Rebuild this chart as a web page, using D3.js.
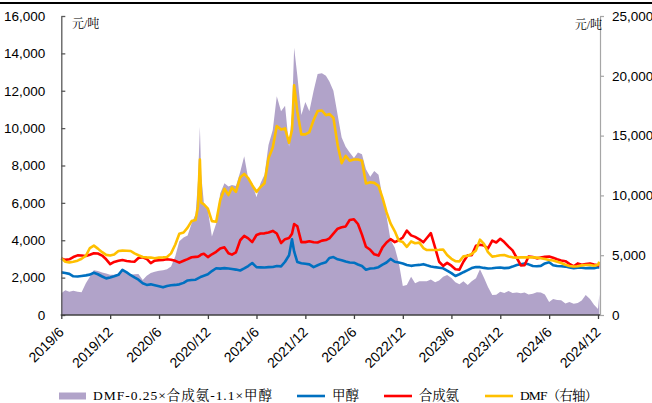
<!DOCTYPE html>
<html>
<head>
<meta charset="utf-8">
<script src="https://cdn.jsdelivr.net/npm/d3@7"></script>
<style>
  body { margin: 0; background: #fff; }
  svg { display: block; font-family: "Times New Roman", "Liberation Serif", "Noto Serif CJK SC", "Noto Sans CJK SC", serif; }
</style>
</head>
<body>
<svg id="chart" width="652" height="403"></svg>
<script>
// Observation dates (semi-monthly, with a few extra points around sharp moves)
const dates = [
  "2019-06-01","2019-06-16","2019-07-01","2019-07-16","2019-08-01","2019-08-16","2019-09-01","2019-09-16","2019-10-01","2019-10-16","2019-11-01","2019-11-16","2019-12-01","2019-12-16",
  "2020-01-01","2020-01-16","2020-02-01","2020-02-16","2020-03-01","2020-03-16","2020-04-01","2020-04-16","2020-05-01","2020-05-16","2020-06-01","2020-06-16","2020-07-01","2020-07-16","2020-08-01","2020-08-16","2020-09-01","2020-09-16","2020-10-01","2020-10-16","2020-10-25","2020-11-01","2020-11-06","2020-11-16","2020-12-01","2020-12-16",
  "2021-01-01","2021-01-16","2021-02-01","2021-02-16","2021-03-01","2021-03-16","2021-04-01","2021-04-16","2021-05-01","2021-05-16","2021-06-01","2021-06-16","2021-07-01","2021-07-16","2021-08-01","2021-08-16","2021-09-01","2021-09-16","2021-10-01","2021-10-12","2021-10-20","2021-11-01","2021-11-16","2021-12-01","2021-12-16",
  "2022-01-01","2022-01-16","2022-02-01","2022-02-16","2022-03-01","2022-03-16","2022-04-01","2022-04-16","2022-05-01","2022-05-16","2022-06-01","2022-06-16","2022-07-01","2022-07-16","2022-08-01","2022-08-16","2022-09-01","2022-09-16","2022-10-01","2022-10-16","2022-11-01","2022-11-16","2022-12-01","2022-12-16",
  "2023-01-01","2023-01-16","2023-02-01","2023-02-16","2023-03-01","2023-03-16","2023-04-01","2023-04-16","2023-05-01","2023-05-16","2023-06-01","2023-06-16","2023-07-01","2023-07-16","2023-08-01","2023-08-16","2023-09-01","2023-09-16","2023-10-01","2023-10-16","2023-11-01","2023-11-16","2023-12-01","2023-12-16",
  "2024-01-01","2024-01-16","2024-02-01","2024-02-16","2024-03-01","2024-03-16","2024-04-01","2024-04-16","2024-05-01","2024-05-16","2024-06-01","2024-06-16","2024-07-01","2024-07-16","2024-08-01","2024-08-16","2024-09-01","2024-09-16","2024-10-01","2024-10-16","2024-11-01","2024-11-16","2024-12-01","2024-12-06"
];

// DMF-0.25×合成氨-1.1×甲醇 spread (left axis, 元/吨)
const spread = [
  1160,1330,1250,1300,1250,1220,1700,2050,2400,2350,2280,2220,2150,2160,
  2200,2360,2250,2160,2180,2200,1870,2100,2250,2320,2370,2400,2450,2600,3150,3950,4150,4250,4900,5400,7200,10080,7500,6000,5600,4200,
  4900,6500,7050,6870,6950,6900,7650,8500,7300,7050,6300,7050,7500,9100,9900,11700,10900,11200,9000,10800,14300,12800,10700,11400,10900,
  12000,12900,12930,12800,12500,12000,10700,9500,9000,8700,8400,8700,8600,7800,7400,7700,7500,6300,5300,4010,3600,2800,1550,1600,
  2050,1700,1800,1800,1800,1900,1750,1850,2050,2140,1980,1750,1640,1800,1600,1800,1960,2450,2000,1500,1070,1080,1250,1180,
  1280,1180,1200,1160,1200,1100,1140,1220,1200,1100,700,850,800,790,620,700,600,640,780,1070,850,550,320,1100
];

// 甲醇 (left axis)
const methanol = [
  2280,2250,2200,2070,2060,2090,2120,2160,2260,2180,2060,1960,2010,2070,
  2150,2420,2280,2130,2010,1890,1700,1610,1640,1590,1540,1480,1550,1590,1610,1640,1720,1850,1870,1890,1960,2010,2050,2100,2180,2350,
  2500,2480,2510,2490,2460,2430,2380,2490,2620,2780,2560,2550,2540,2560,2570,2620,2600,2850,3200,4050,3400,2830,2770,2740,2710,
  2560,2660,2760,2820,3050,3100,2980,2930,2860,2810,2800,2700,2620,2420,2490,2500,2560,2700,2810,3000,2850,2810,2760,2680,
  2630,2660,2680,2720,2660,2600,2560,2530,2500,2370,2240,2090,2180,2290,2400,2510,2570,2560,2520,2490,2500,2530,2540,2510,
  2520,2590,2680,2720,2760,2710,2620,2610,2630,2760,2820,2660,2620,2610,2590,2540,2500,2530,2530,2500,2520,2500,2550,2550
];

// 合成氨 (left axis)
const ammonia = [
  3030,2950,2980,3100,3190,3180,3160,3220,3300,3290,3180,2980,2720,2840,
  2900,2940,2890,2860,2850,3050,3090,3000,2780,2910,2930,2950,2980,2960,2900,2800,2900,2990,3090,3110,3120,3180,3240,3280,3100,3250,
  3380,3560,3620,3300,3230,3350,4000,4230,4100,3900,4280,4360,4370,4420,4500,4360,3850,4060,4120,4350,4870,4750,3900,3900,3950,
  3890,3880,3980,4010,4100,4350,4620,4690,4740,5080,5120,4870,4300,3650,3490,3250,3180,3620,3880,4060,3900,4000,4150,4520,
  4260,4180,4050,3890,4120,4380,3600,2850,2630,2790,2640,2450,2430,2850,3200,3200,3700,3760,3720,3560,3980,3880,4080,3900,
  3660,3460,3050,2650,2660,3130,3100,3030,3080,3120,3130,3060,2980,2920,2880,2740,2600,2760,2690,2730,2760,2700,2660,2640
];

// DMF (right axis)
const dmf = [
  4740,4450,4400,4450,4540,4700,4950,5600,5800,5550,5250,5030,4980,5050,
  5350,5380,5370,5350,5150,5000,4850,4820,4800,4740,4800,4820,4850,5150,5900,6800,6900,7300,7850,7950,9100,13000,9400,9250,8900,7850,
  7800,9600,10550,10030,10650,10300,11500,11800,11450,10850,10300,10700,11010,13100,14000,15800,15500,15600,14400,15500,19200,17000,15100,15100,15300,
  16300,17050,17100,16700,16800,16500,14200,12700,13300,12900,13000,13000,12900,11000,11100,11050,10800,9800,8600,7660,7000,6200,6100,5700,
  6150,6000,6050,5600,5430,5430,5430,5450,5480,5020,4700,4500,4480,4900,4950,5100,5400,6300,5950,5250,4880,4930,5000,5020,
  4900,4820,4800,4820,4820,4820,4820,4800,4750,4680,4600,4550,4450,4350,4200,4100,4050,4080,4150,4180,4180,4120,4200,4450
];

const xTickLabels = ["2019/6","2019/12","2020/6","2020/12","2021/6","2021/12","2022/6","2022/12","2023/6","2023/12","2024/6","2024/12"];
const leftTicks = [0,2000,4000,6000,8000,10000,12000,14000,16000];
const rightTicks = [0,5000,10000,15000,20000,25000];

const legendItems = [
  { label: "DMF-0.25×合成氨-1.1×甲醇", kind: "area", color: "#b1a3c9" },
  { label: "甲醇", kind: "line", color: "#0070c0" },
  { label: "合成氨", kind: "line", color: "#ff0000" },
  { label: "DMF（右轴）", kind: "line", color: "#ffc000" }
];

// ---- layout ----
const plotLeft = 61.3, plotRight = 600, plotTop = 16, plotBottom = 315;
const parseDay = d3.timeParse("%Y-%m-%d");
const parseMonth = d3.timeParse("%Y/%m");
const t = dates.map(parseDay);
const tickDates = xTickLabels.map(parseMonth);

const x = d3.scaleTime()
  .domain([tickDates[0], tickDates[tickDates.length - 1]])
  .range([plotLeft, 598]);
const yL = d3.scaleLinear().domain([0, 16000]).range([plotBottom, plotTop]);
const yR = d3.scaleLinear().domain([0, 25000]).range([plotBottom, plotTop]);

const svg = d3.select("#chart");
const fontSize = 13.5;

// top rule
svg.append("rect").attr("x", 0).attr("y", 2).attr("width", 652).attr("height", 2).attr("fill", "#000");

// spread area
const area = d3.area()
  .x((d, i) => x(t[i]))
  .y0(yL(0))
  .y1(d => yL(d));
svg.append("path").datum(spread).attr("d", area).attr("fill", "#b1a3c9");

// lines
const lineLeft = d3.line().x((d, i) => x(t[i])).y(d => yL(d));
const lineRight = d3.line().x((d, i) => x(t[i])).y(d => yR(d));
const lineStyle = (p, color) => p.attr("fill", "none").attr("stroke", color)
  .attr("stroke-width", 2.6).attr("stroke-linejoin", "round").attr("stroke-linecap", "butt");

svg.append("path").datum(methanol).attr("d", lineLeft).call(lineStyle, "#0070c0");
svg.append("path").datum(ammonia).attr("d", lineLeft).call(lineStyle, "#ff0000");
svg.append("path").datum(dmf).attr("d", lineRight).call(lineStyle, "#ffc000");

// left axis (ticks point inward)
const gL = svg.append("g")
  .attr("transform", `translate(${plotLeft},0)`)
  .call(d3.axisLeft(yL).tickValues(leftTicks).tickFormat(d3.format(",")).tickSize(-4).tickSizeOuter(0).tickPadding(16));
gL.select(".domain").attr("stroke", "#595959").attr("stroke-width", 1.3);
gL.selectAll(".tick line").attr("stroke", "#595959").attr("stroke-width", 1.3);
gL.selectAll(".tick text").attr("font-size", fontSize).attr("fill", "#000").attr("font-family", null);

// right axis
const gR = svg.append("g")
  .attr("transform", `translate(${plotRight},0)`)
  .call(d3.axisRight(yR).tickValues(rightTicks).tickFormat(d3.format(",")).tickSize(4).tickSizeOuter(0).tickPadding(8));
gR.select(".domain").attr("stroke", "#a6a6a6").attr("stroke-width", 1.2);
gR.selectAll(".tick line").attr("stroke", "#a6a6a6").attr("stroke-width", 1.2);
gR.selectAll(".tick text").attr("font-size", fontSize).attr("fill", "#000").attr("font-family", null);

// bottom axis with rotated labels
const gX = svg.append("g")
  .attr("transform", `translate(0,${plotBottom})`)
  .call(d3.axisBottom(x).tickValues(tickDates).tickFormat((d, i) => xTickLabels[i]).tickSize(4).tickSizeOuter(0));
gX.select(".domain").remove();
gX.append("line").attr("x1", plotLeft - 0.6).attr("x2", plotRight).attr("y1", 0).attr("y2", 0)
  .attr("stroke", "#404040").attr("stroke-width", 1.6);
gX.selectAll(".tick line").attr("stroke", "#404040").attr("stroke-width", 1.3);
gX.selectAll(".tick text")
  .attr("font-size", 14).attr("fill", "#000").attr("font-family", null)
  .attr("text-anchor", "end")
  .attr("y", 0).attr("dy", 0)
  .attr("transform", "translate(3,18) rotate(-45)");

// unit labels
svg.append("text").attr("x", 72).attr("y", 28).attr("font-size", 12).attr("fill", "#000").text("元/吨");
svg.append("text").attr("x", 602).attr("y", 29).attr("text-anchor", "end").attr("font-size", 12).attr("fill", "#000").text("元/吨");

// legend
const legendX = [59, 297, 384, 485];
const legendTextWidth = [179, null, 40, 78];
const lg = svg.append("g");
legendItems.forEach((item, i) => {
  const x0 = legendX[i];
  if (item.kind === "area") {
    lg.append("rect").attr("x", x0).attr("y", 392.5).attr("width", 27).attr("height", 7).attr("fill", item.color);
  } else {
    lg.append("line").attr("x1", x0).attr("x2", x0 + 28).attr("y1", 396).attr("y2", 396)
      .attr("stroke", item.color).attr("stroke-width", 2.6);
  }
  const txt = lg.append("text").attr("x", x0 + (item.kind === "area" ? 34 : 35)).attr("y", 400)
    .attr("font-size", fontSize).attr("fill", "#000").text(item.label);
  if (legendTextWidth[i]) txt.attr("textLength", legendTextWidth[i]).attr("lengthAdjust", "spacing");
});
</script>
</body>
</html>
